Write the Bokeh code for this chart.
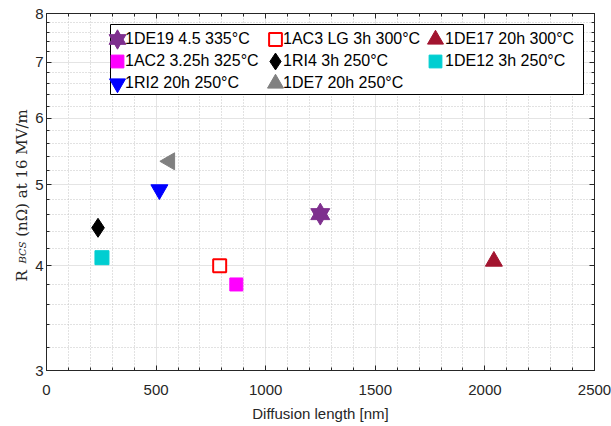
from math import pi
from bokeh.plotting import figure
from bokeh.models import (FixedTicker, Legend, LegendItem, LinearAxis, LogAxis,
                          Label, PrintfTickFormatter, Range1d, BoxAnnotation)
from bokeh.embed import file_html
from bokeh.resources import INLINE

# ---- data ----
labels = ["1DE19 4.5 335°C", "1AC3 LG 3h 300°C", "1DE17 20h 300°C",
          "1AC2 3.25h 325°C", "1RI4 3h 250°C", "1DE12 3h 250°C",
          "1RI2 20h 250°C", "1DE7 20h 250°C"]
diffusion_nm = [1249, 790, 2041, 866, 235, 253, 515, 562]
rbcs_nohm = [4.61, 4.00, 4.05, 3.80, 4.44, 4.09, 4.93, 5.33]
x_ticks = [0, 500, 1000, 1500, 2000, 2500]
x_minor = [v for v in range(0, 2501, 100) if v % 500]
y_ticks = [3, 4, 5, 6, 7, 8]
y_minor = [round(3 + 0.2 * i, 1) for i in range(26) if (i % 5)]

# ---- styles (size = marker size in plot, lsize = marker size in legend) ----
styles = [
    dict(marker=["triangle", "inverted_triangle"], color="#7E2F8E", fill="#7E2F8E", size=19, lsize=17, lw=1, angle=0),
    dict(marker=["square"], color="#FF0000", fill="white", size=13, lsize=13, lw=2, angle=0),
    dict(marker=["triangle"], color="#A2142F", fill="#A2142F", size=17, lsize=16, lw=1, angle=0),
    dict(marker=["square"], color="#FF00FF", fill="#FF00FF", size=13, lsize=13, lw=1, angle=0),
    dict(marker=["diamond"], color="black", fill="black", size=19, lsize=17, lw=1, angle=0),
    dict(marker=["square"], color="#00CED1", fill="#00CED1", size=14, lsize=13, lw=1, angle=0),
    dict(marker=["inverted_triangle"], color="#0000FF", fill="#0000FF", size=17, lsize=16, lw=1, angle=0),
    dict(marker=["triangle"], color="#808080", fill="#808080", size=17, lsize=16, lw=1, angle=pi / 2),
]

AX = "#262626"
FONT = "Liberation Sans"

p = figure(width=611, height=426, x_range=Range1d(0, 2500), y_range=Range1d(3, 8),
           y_axis_type="log", output_backend="svg", toolbar_location=None,
           min_border_left=46, min_border_right=17, min_border_top=13, min_border_bottom=56)

p.background_fill_color = "white"
p.outline_line_color = AX
p.outline_line_width = 1

xt = FixedTicker(ticks=x_ticks, minor_ticks=x_minor)
yt = FixedTicker(ticks=y_ticks, minor_ticks=y_minor)
p.xaxis.ticker = xt
p.yaxis.ticker = yt
p.yaxis.formatter = PrintfTickFormatter(format="%d")

for ax in (p.xaxis[0], p.yaxis[0]):
    ax.axis_line_color = AX
    ax.major_tick_line_color = AX
    ax.minor_tick_line_color = AX
    ax.major_tick_in = 5
    ax.major_tick_out = 0
    ax.minor_tick_in = 3
    ax.minor_tick_out = 0
    ax.major_label_text_font = FONT
    ax.major_label_text_font_size = "15px"
    ax.major_label_text_color = AX

p.xaxis.major_label_standoff = 14
p.yaxis.major_label_standoff = 3
p.xaxis.axis_label = "Diffusion length [nm]"
p.xaxis.axis_label_text_font = FONT
p.xaxis.axis_label_text_font_style = "normal"
p.xaxis.axis_label_text_font_size = "15px"
p.xaxis.axis_label_text_color = AX
p.xaxis.axis_label_standoff = 7

top = LinearAxis(ticker=xt, major_label_text_color=None, major_label_text_font_size="1px",
                 major_label_standoff=0,
                 major_tick_in=5, major_tick_out=0, minor_tick_in=3, minor_tick_out=0,
                 axis_line_color=AX, major_tick_line_color=AX, minor_tick_line_color=AX)
right = LogAxis(ticker=yt, major_label_text_color=None, major_label_text_font_size="1px",
                major_label_standoff=0,
                major_tick_in=5, major_tick_out=0, minor_tick_in=3, minor_tick_out=0,
                axis_line_color=AX, major_tick_line_color=AX, minor_tick_line_color=AX)
p.add_layout(top, "above")
p.add_layout(right, "right")

p.grid.grid_line_color = "#E4E4E4"
p.grid.grid_line_width = 1
p.grid.minor_grid_line_color = "#C4C4C4"
p.grid.minor_grid_line_dash = "1 2"
p.grid.minor_grid_line_width = 1

glyph_rs = []
for i, st in enumerate(styles):
    rs = []
    for m in st["marker"]:
        r = p.scatter(x=[diffusion_nm[i]], y=[rbcs_nohm[i]], marker=m, size=st["size"],
                      fill_color=st["fill"], line_color=st["color"], line_width=st["lw"],
                      angle=st["angle"])
        rs.append(r)
    glyph_rs.append(rs)

# invisible renderer used for text-only legend entries
ghost = p.scatter(x=[diffusion_nm[0]], y=[rbcs_nohm[0]], size=1, fill_alpha=0, line_alpha=0)

# legend frame
p.add_layout(BoxAnnotation(left=110, right=583, top=24, bottom=94,
                           left_units="canvas", right_units="canvas",
                           top_units="canvas", bottom_units="canvas",
                           fill_color="white", fill_alpha=1.0,
                           line_color="black", line_width=1, line_alpha=1.0))

# glyph-only legends (one per entry, row-major 3 columns);
# Bokeh draws a legend marker at 0.4 x the glyph box, so the box is sized from lsize
glyph_cx = [116.5, 275, 435]     # canvas px, glyph centres of the 3 columns
row_cy = [38.5, 60.5, 82.5]      # canvas px, row centres
frame_left, frame_bottom = 46, 370
for i, rs in enumerate(glyph_rs):
    c, r = i % 3, i // 3
    box = int(round(styles[i]["lsize"] / 0.4))
    half = box / 2
    lg = Legend(items=[LegendItem(label="", renderers=rs)],
                location=(glyph_cx[c] - half - frame_left, frame_bottom - row_cy[r] - half),
                glyph_width=box, glyph_height=box, label_height=0, label_standoff=0,
                spacing=0, padding=0, margin=0, label_text_font_size="1px",
                border_line_color=None, background_fill_alpha=0.0)
    p.add_layout(lg, "center")

# text-only legends (one per column)
text_x = [125, 283, 445]
for c in range(3):
    labs = labels[c::3]
    n = len(labs)
    h = n * 20 + (n - 1) * 2
    lg = Legend(items=[LegendItem(label=l, renderers=[ghost]) for l in labs],
                location=(text_x[c] - frame_left, frame_bottom - (row_cy[0] - 10) - h),
                orientation="vertical",
                label_text_font=FONT, label_text_font_size="16px", label_text_color="black",
                glyph_width=0, glyph_height=20, label_height=20, label_standoff=0,
                spacing=2, padding=0, margin=0,
                border_line_color=None, background_fill_alpha=0.0)
    p.add_layout(lg, "center")

# y-axis title: "R" + gap for the subscript + remainder, and the italic subscript "BCS"
SERIF = "DejaVu Serif"
gap = "\u00a0" * 7
p.add_layout(Label(x=21.5, y=281, x_units="canvas", y_units="canvas",
                   text="R" + gap + "(nΩ) at 16 MV/m",
                   angle=pi / 2, text_font=SERIF, text_font_size="15px",
                   text_color=AX, text_baseline="alphabetic", text_align="left"), "left")
p.add_layout(Label(x=22, y=263, x_units="canvas", y_units="canvas", text="BCS",
                   angle=pi / 2, text_font=SERIF, text_font_size="10px",
                   text_font_style="italic", text_color=AX,
                   text_baseline="alphabetic", text_align="left"), "left")

open("out.html", "w").write(file_html(p, INLINE))
